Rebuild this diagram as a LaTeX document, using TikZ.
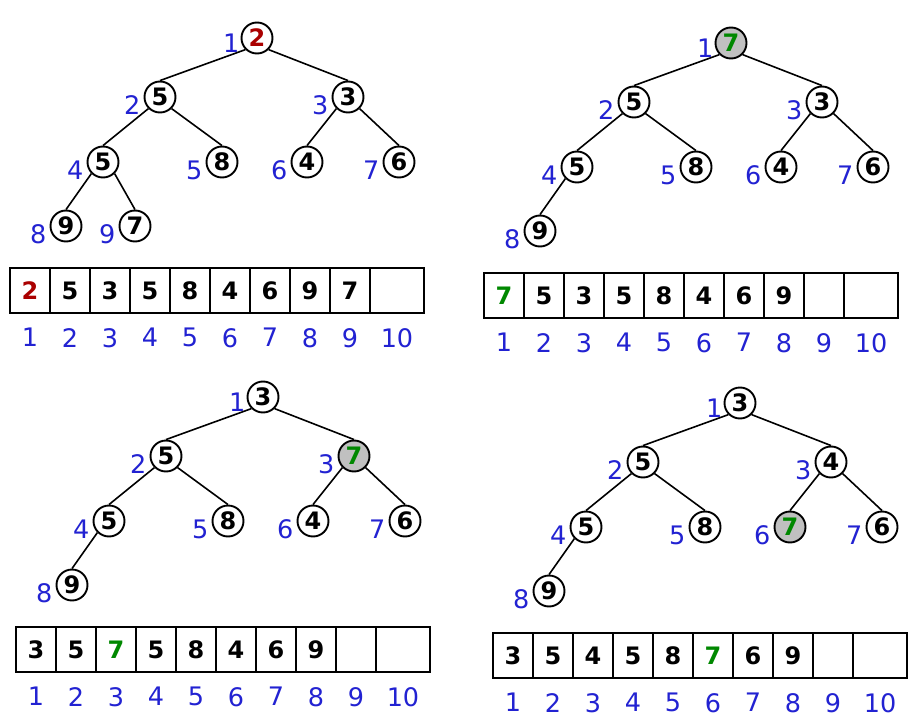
\documentclass[tikz,border=0pt]{standalone}
\usepackage{fontspec}
\setmainfont{DejaVu Sans}
\definecolor{idxblue}{RGB}{34,34,210}
\definecolor{hred}{RGB}{170,0,0}
\definecolor{hgreen}{RGB}{0,136,0}
\definecolor{hgray}{RGB}{192,192,192}
\tikzset{
  hn/.style={circle,draw,line width=1.9pt,minimum size=31pt,inner sep=0pt,
    font=\fontsize{24}{24}\selectfont\bfseries},
  idx/.style={text=idxblue,inner sep=0pt,font=\fontsize{25.5}{25.5}\selectfont},
  hl/.style={label={[idx,label distance=3pt,yshift=-8pt]left:#1}},
  hlroot/.style={label={[idx,label distance=1pt,yshift=-5pt]left:#1}},
  cell/.style={rectangle,draw,line width=1.8pt,minimum width=40pt,minimum height=45pt,
    inner sep=0pt,font=\fontsize{24}{24}\selectfont\bfseries},
  ci/.style={label={[idx,label distance=14pt]below:#1}},
  edge/.style={line width=1.6pt},
  hot/.style={fill=hgray},
}
\begin{document}
\begin{tikzpicture}[x=1pt,y=-1pt]
\useasboundingbox (0,0) rectangle (914,720);
\fill[white] (0,0) rectangle (914,720);

% ---------------- Panel 1 ----------------
\begin{scope}[shift={(257,38)}]
  \node[hn,hlroot=1] (a1) at (0,0) {\textcolor{hred}{2}};
  \node[hn,hl=2] (a2) at (-97,59) {5};
  \node[hn,hl=3] (a3) at (91,59) {3};
  \node[hn,hl=4] (a4) at (-154,124) {5};
  \node[hn,hl=5] (a5) at (-35,124) {8};
  \node[hn,hl=6] (a6) at (50,124) {4};
  \node[hn,hl=7] (a7) at (142,124) {6};
  \node[hn,hl=8] (a8) at (-191,188) {9};
  \node[hn,hl=9] (a9) at (-122,188) {7};
  \draw[edge] (a1.south west) -- (a2.north); \draw[edge] (a1.south east) -- (a3.north);
  \draw[edge] (a2.south west) -- (a4.north); \draw[edge] (a2.south east) -- (a5.north);
  \draw[edge] (a3.south west) -- (a6.north); \draw[edge] (a3.south east) -- (a7.north);
  \draw[edge] (a4.south west) -- (a8.north); \draw[edge] (a4.south east) -- (a9.north);
  \foreach \v [count=\i] in {{\textcolor{hred}{2}},5,3,5,8,4,6,9,7}
    \node[cell,ci=\i] (ac\i) at (-227+40*\i-40,252.5) {\v};
  \node[cell,ci=10,minimum width=54pt] (ac10) at (140,252.5) {};
\end{scope}

% ---------------- Panel 2 ----------------
\begin{scope}[shift={(731,43)}]
  \node[hn,hot,hlroot=1] (b1) at (0,0) {\textcolor{hgreen}{7}};
  \node[hn,hl=2] (b2) at (-97,59) {5};
  \node[hn,hl=3] (b3) at (91,59) {3};
  \node[hn,hl=4] (b4) at (-154,124) {5};
  \node[hn,hl=5] (b5) at (-35,124) {8};
  \node[hn,hl=6] (b6) at (50,124) {4};
  \node[hn,hl=7] (b7) at (142,124) {6};
  \node[hn,hl=8] (b8) at (-191,188) {9};
  \draw[edge] (b1.south west) -- (b2.north); \draw[edge] (b1.south east) -- (b3.north);
  \draw[edge] (b2.south west) -- (b4.north); \draw[edge] (b2.south east) -- (b5.north);
  \draw[edge] (b3.south west) -- (b6.north); \draw[edge] (b3.south east) -- (b7.north);
  \draw[edge] (b4.south west) -- (b8.north);
  \foreach \v [count=\i] in {{\textcolor{hgreen}{7}},5,3,5,8,4,6,9,{}}
    \node[cell,ci=\i] (bc\i) at (-227+40*\i-40,252.5) {\v};
  \node[cell,ci=10,minimum width=54pt] (bc10) at (140,252.5) {};
\end{scope}

% ---------------- Panel 3 ----------------
\begin{scope}[shift={(263,397)}]
  \node[hn,hlroot=1] (c1) at (0,0) {3};
  \node[hn,hl=2] (c2) at (-97,59) {5};
  \node[hn,hot,hl=3] (c3) at (91,59) {\textcolor{hgreen}{7}};
  \node[hn,hl=4] (c4) at (-154,124) {5};
  \node[hn,hl=5] (c5) at (-35,124) {8};
  \node[hn,hl=6] (c6) at (50,124) {4};
  \node[hn,hl=7] (c7) at (142,124) {6};
  \node[hn,hl=8] (c8) at (-191,188) {9};
  \draw[edge] (c1.south west) -- (c2.north); \draw[edge] (c1.south east) -- (c3.north);
  \draw[edge] (c2.south west) -- (c4.north); \draw[edge] (c2.south east) -- (c5.north);
  \draw[edge] (c3.south west) -- (c6.north); \draw[edge] (c3.south east) -- (c7.north);
  \draw[edge] (c4.south west) -- (c8.north);
  \foreach \v [count=\i] in {3,5,{\textcolor{hgreen}{7}},5,8,4,6,9,{}}
    \node[cell,ci=\i] (cc\i) at (-227+40*\i-40,252.5) {\v};
  \node[cell,ci=10,minimum width=54pt] (cc10) at (140,252.5) {};
\end{scope}

% ---------------- Panel 4 ----------------
\begin{scope}[shift={(740,403)}]
  \node[hn,hlroot=1] (d1) at (0,0) {3};
  \node[hn,hl=2] (d2) at (-97,59) {5};
  \node[hn,hl=3] (d3) at (91,59) {4};
  \node[hn,hl=4] (d4) at (-154,124) {5};
  \node[hn,hl=5] (d5) at (-35,124) {8};
  \node[hn,hot,hl=6] (d6) at (50,124) {\textcolor{hgreen}{7}};
  \node[hn,hl=7] (d7) at (142,124) {6};
  \node[hn,hl=8] (d8) at (-191,188) {9};
  \draw[edge] (d1.south west) -- (d2.north); \draw[edge] (d1.south east) -- (d3.north);
  \draw[edge] (d2.south west) -- (d4.north); \draw[edge] (d2.south east) -- (d5.north);
  \draw[edge] (d3.south west) -- (d6.north); \draw[edge] (d3.south east) -- (d7.north);
  \draw[edge] (d4.south west) -- (d8.north);
  \foreach \v [count=\i] in {3,5,4,5,8,{\textcolor{hgreen}{7}},6,9,{}}
    \node[cell,ci=\i] (dc\i) at (-227+40*\i-40,252.5) {\v};
  \node[cell,ci=10,minimum width=54pt] (dc10) at (140,252.5) {};
\end{scope}
\end{tikzpicture}
\end{document}
